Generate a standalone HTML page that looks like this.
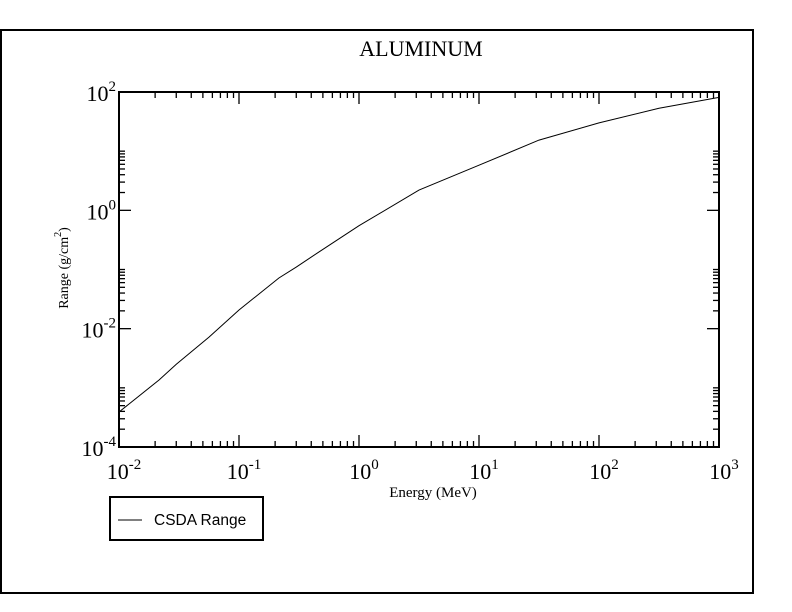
<!DOCTYPE html>
<html><head><meta charset="utf-8"><style>
html,body{margin:0;padding:0;background:#fff;}
svg{display:block;}
</style></head><body>
<svg id="chart" width="792" height="612" viewBox="0 0 792 612" xmlns="http://www.w3.org/2000/svg">
<rect x="1" y="30" width="752" height="563" fill="none" stroke="#000" stroke-width="2"/>
<text x="421" y="56" font-family="Liberation Serif, serif" font-size="22" text-anchor="middle">ALUMINUM</text>
<g id="ticks"></g>
<g id="labels"></g>
<path id="curve" fill="none" stroke="#000" stroke-width="1"/>
<rect x="119" y="92" width="600" height="355" fill="none" stroke="#000" stroke-width="2"/>
<text x="433" y="497" font-family="Liberation Serif, serif" font-size="15" text-anchor="middle">Energy (MeV)</text>
<text transform="translate(68,268) rotate(-90)" font-family="Liberation Serif, serif" font-size="14" text-anchor="middle">Range (g/cm<tspan dy="-7" font-size="10">2</tspan><tspan dy="7">)</tspan></text>
<g>
<rect x="110" y="497" width="153" height="43" fill="#fff" stroke="#000" stroke-width="2"/>
<line x1="118" y1="520" x2="142" y2="520" stroke="#000" stroke-width="1"/>
<text x="154" y="525" font-family="Liberation Sans, sans-serif" font-size="15.5">CSDA Range</text>
</g>
</svg>
<script>
const energies=[0.01,0.0215,0.03,0.0562,0.1,0.215,0.3,0.464,1,3.16,10,31.6,100,316,1000];
const ranges=[0.00039,0.00135,0.0025,0.0072,0.0207,0.0718,0.11,0.198,0.55,2.2,5.8,15.4,30,53,81];
const xDecades=[-2,-1,0,1,2,3];
const yDecades=[-4,-2,0,2];
const X0=119,X1=719,Y0=447,Y1=92;
function xs(v){return X0+(Math.log10(v)+2)/5*(X1-X0);}
function ys(v){return Y0-(Math.log10(v)+4)/6*(Y0-Y1);}
const NS="http://www.w3.org/2000/svg";
let d="";
energies.forEach((e,i)=>{d+=(i?"L":"M")+xs(e).toFixed(1)+","+ys(ranges[i]).toFixed(1);});
document.getElementById("curve").setAttribute("d",d);
const tg=document.getElementById("ticks"),lg=document.getElementById("labels");
function line(x1,y1,x2,y2){const l=document.createElementNS(NS,"line");l.setAttribute("x1",x1);l.setAttribute("y1",y1);l.setAttribute("x2",x2);l.setAttribute("y2",y2);l.setAttribute("stroke","#000");l.setAttribute("stroke-width","1.3");


tg.appendChild(l);}
for(let p=-2;p<=3;p++){for(let m=1;m<10;m++){if(p===3&&m>1)break;const v=m*Math.pow(10,p);const x=xs(v);const L=m===1?12:6;line(x,Y0,x,Y0-L);line(x,Y1,x,Y1+L);}}
for(let p=-4;p<=2;p+=2){const y=ys(Math.pow(10,p));line(X0,y,X0+12,y);line(X1,y,X1-12,y);
 if(p<2){for(let m=2;m<=10;m++){const yy=ys(m*Math.pow(10,p));line(X0,yy,X0+6,yy);line(X1,yy,X1-6,yy);}}}
function lab(x,y,p,anchor,name){const t=document.createElementNS(NS,"text");t.setAttribute("x",x);t.setAttribute("y",y);t.setAttribute("font-family","Liberation Serif, serif");t.setAttribute("font-size","22");t.setAttribute("text-anchor",anchor);


t.innerHTML='10<tspan dy="-10" font-size="15">'+p+'</tspan>';lg.appendChild(t);}
xDecades.forEach(p=>lab(xs(Math.pow(10,p))+5,479,p,"middle","x-tick-label"));
yDecades.forEach(p=>lab(X0-3,ys(Math.pow(10,p))+9,p,"end","y-tick-label"));
</script>
</body></html>
